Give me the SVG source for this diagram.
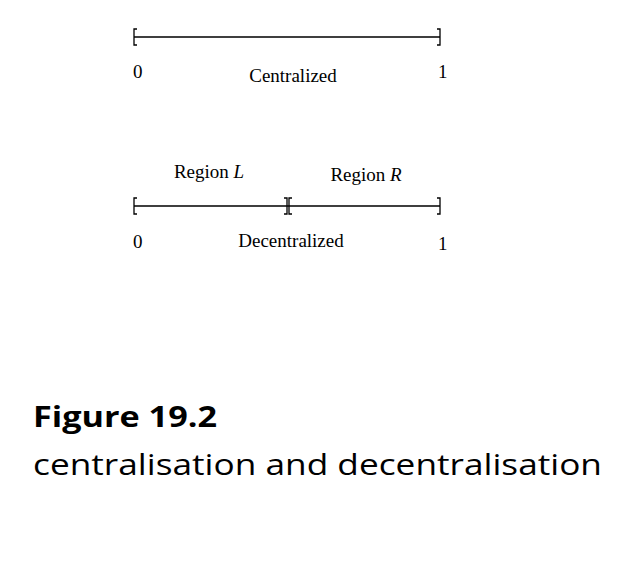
<svg xmlns="http://www.w3.org/2000/svg" width="626" height="579" viewBox="0 0 626 579">
<style>
.l{stroke:#000;stroke-width:1.3;fill:none}
.t{font-family:"Liberation Serif",serif;font-size:19px;fill:#000}
.c{font-family:"Open Sans","Liberation Sans",sans-serif;font-size:29px;fill:#000}
</style>
<rect width="626" height="579" fill="#fff"/>
<g id="centralized">
<path class="l" d="M137,29 H134 V45 H137 M134,37 H440 M437,29 H440 V45 H437"/>
<text class="t" x="133" y="78">0</text>
<text class="t" x="293" y="82" text-anchor="middle">Centralized</text>
<text class="t" x="438" y="78">1</text>
</g>
<g id="decentralized">
<path class="l" d="M137,198 H134 V214 H137 M134,206 H440 M437,198 H440 V214 H437 M284,198 H287 V214 H284 M292,198 H289 V214 H292"/>
<text class="t" x="209" y="178" text-anchor="middle">Region <tspan font-style="italic">L</tspan></text>
<text class="t" x="366" y="181" text-anchor="middle">Region <tspan font-style="italic">R</tspan></text>
<text class="t" x="133" y="248">0</text>
<text class="t" x="291" y="247" text-anchor="middle">Decentralized</text>
<text class="t" x="438" y="250">1</text>
</g>
<g id="caption">
<text class="c" x="33" y="427" font-weight="bold" textLength="184" lengthAdjust="spacingAndGlyphs">Figure 19.2</text>
<text class="c" x="33" y="475" textLength="569" lengthAdjust="spacingAndGlyphs">centralisation and decentralisation</text>
</g>
</svg>
